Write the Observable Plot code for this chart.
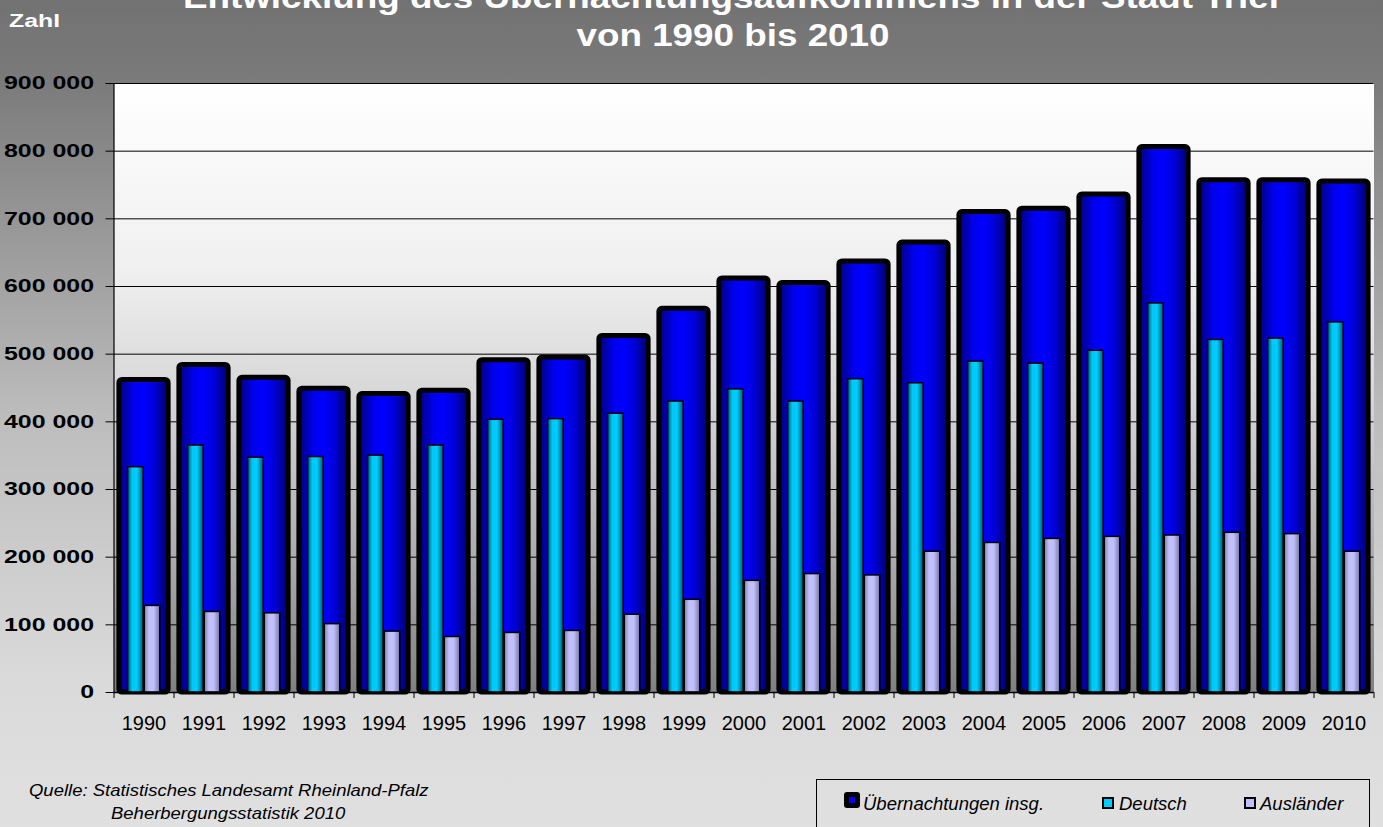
<!DOCTYPE html>
<html>
<head>
<meta charset="utf-8">
<script src="https://cdn.jsdelivr.net/npm/d3@7"></script>
<script src="https://cdn.jsdelivr.net/npm/@observablehq/plot@0.6"></script>
<style>
  html, body { margin: 0; padding: 0; }
  body { width: 1383px; height: 827px; overflow: hidden; }
  #wrap {
    position: relative; width: 1383px; height: 827px; overflow: hidden;
    background: linear-gradient(to bottom, #727272 0%, #7b7b7b 10%, #bcbcbc 50%, #dadada 82%, #e0e0e0 100%);
    font-family: "Liberation Sans", Arial, sans-serif;
  }
  #chart { position: absolute; left: 0; top: 0; }
  .title {
    position: absolute; left: 733px; white-space: nowrap; color: #fff;
    font: bold 32px "Liberation Sans", Arial, sans-serif; line-height: 1;
    transform: translateX(-50%) scaleX(1.15);
  }
  #zahl {
    position: absolute; left: 9px; top: 12px; color: #fff;
    font: bold 18px "Liberation Sans", Arial, sans-serif; line-height: 1;
    transform: scaleX(1.38); transform-origin: left top;
  }
  .src {
    position: absolute; white-space: nowrap; color: #000;
    font: italic 16.5px "Liberation Sans", Arial, sans-serif; line-height: 1;
    transform: scaleX(1.12); transform-origin: left top;
  }
  #legend {
    position: absolute; left: 816px; top: 779px; width: 554px; height: 70px;
    border: 1.5px solid #000; box-sizing: border-box;
  }
  .li { position: absolute; white-space: nowrap; font: italic 18.5px "Liberation Sans", Arial, sans-serif; color: #000; line-height: 1; }
  .sw { position: absolute; box-sizing: border-box; }
</style>
</head>
<body>
<div id="wrap">
  <div id="chart"></div>
  <div class="title" style="top:-19px">Entwicklung des Übernachtungsaufkommens in der Stadt Trier</div>
  <div class="title" style="top:19px">von 1990 bis 2010</div>
  <div id="zahl">Zahl</div>
  <div class="src" style="left:29px; top:782px">Quelle: Statistisches Landesamt Rheinland-Pfalz</div>
  <div class="src" style="left:111px; top:805px">Beherbergungsstatistik 2010</div>
  <div id="legend"></div>
</div>
<script>
// ---- data ----
const years = [1990, 1991, 1992, 1993, 1994, 1995, 1996, 1997, 1998, 1999, 2000,
               2001, 2002, 2003, 2004, 2005, 2006, 2007, 2008, 2009, 2010];
const totals = [462000, 484000, 465000, 449000, 441000, 446000, 491000, 495000, 527000, 567000, 612000,
                605000, 637000, 665000, 710000, 715000, 736000, 806000, 757000, 757000, 755000];
const deutsch = [333000, 365000, 347000, 348000, 350000, 365000, 403000, 404000, 412000, 430000, 448000,
                 430000, 463000, 457000, 489000, 486000, 505000, 575000, 521000, 523000, 547000];
const auslaender = [128000, 119000, 117000, 101000, 90000, 82000, 88000, 91000, 115000, 137000, 165000,
                    175000, 173000, 208000, 221000, 227000, 230000, 232000, 236000, 234000, 208000];
const yTicks = [0, 100000, 200000, 300000, 400000, 500000, 600000, 700000, 800000, 900000];
const seriesNames = ["Übernachtungen insg.", "Deutsch", "Ausländer"];

const data = years.map((year, i) => ({year, total: totals[i], deutsch: deutsch[i], auslaender: auslaender[i]}));
const boundaries = [...years.map(y => y - 0.5), years[years.length - 1] + 0.5];
const fmt = d => d3.format(",")(d).replace(/,/g, " ");

const chart = Plot.plot({
  width: 1383, height: 827,
  marginLeft: 113.5, marginRight: 9.5, marginTop: 83, marginBottom: 135,
  style: {background: "transparent", color: "#000", fontFamily: "'Liberation Sans', Arial, sans-serif"},
  x: {domain: [years[0] - 0.5, years[years.length - 1] + 0.5], label: null},
  y: {domain: [0, 900000], label: null},
  marks: [
    Plot.frame({fill: "url(#plotBg)", stroke: "none"}),
    Plot.gridY(yTicks, {stroke: "#000", strokeOpacity: 1, strokeWidth: 1}),
    Plot.rect(data, {x1: d => d.year - 0.41, x2: d => d.year + 0.41, y1: 0, y2: "total",
      fill: "url(#gTotal)", stroke: "#000", strokeWidth: 5, rx: 3}),
    Plot.rect(data, {x1: d => d.year - 0.265, x2: d => d.year - 0.005, y1: 0, y2: "deutsch",
      fill: "url(#gDeutsch)", stroke: "#000", strokeWidth: 1.5}),
    Plot.rect(data, {x1: d => d.year + 0.012, x2: d => d.year + 0.272, y1: 0, y2: "auslaender",
      fill: "url(#gAus)", stroke: "#000", strokeWidth: 1.5}),
    Plot.ruleY([0], {stroke: "#000", strokeWidth: 1.5}),
    Plot.ruleX([years[0] - 0.5], {stroke: "#000", strokeWidth: 1.2}),
    Plot.axisY({ticks: yTicks, tickSize: 8, tickPadding: 12, tickFormat: fmt, label: null,
      fontSize: 18.6, fontWeight: "bold"}),
    Plot.axisX({ticks: boundaries, tickSize: 6, tickFormat: () => "", label: null}),
    Plot.axisX({ticks: years, tickSize: 0, tickPadding: 23, tickFormat: d => String(d), label: null, fontSize: 20})
  ]
});

// gradients
const ns = "http://www.w3.org/2000/svg";
const defs = document.createElementNS(ns, "defs");
function grad(id, vertical, stops) {
  const g = document.createElementNS(ns, "linearGradient");
  g.setAttribute("id", id);
  g.setAttribute("x1", "0"); g.setAttribute("y1", "0");
  g.setAttribute("x2", vertical ? "0" : "1"); g.setAttribute("y2", vertical ? "1" : "0");
  for (const [o, c] of stops) {
    const s = document.createElementNS(ns, "stop");
    s.setAttribute("offset", o); s.setAttribute("stop-color", c);
    g.appendChild(s);
  }
  defs.appendChild(g);
}
grad("plotBg", true, [[0, "#ffffff"], [0.3, "#f0f0f0"], [0.52, "#d6d6d6"], [0.77, "#adadad"], [1, "#808080"]]);
grad("gTotal", false, [[0, "#000078"], [0.3, "#0000ee"], [0.5, "#0000ff"], [0.72, "#0000d8"], [1, "#00006c"]]);
grad("gDeutsch", false, [[0, "#005870"], [0.3, "#00c8f8"], [0.6, "#00ccff"], [1, "#005868"]]);
grad("gAus", false, [[0, "#7c7ca0"], [0.3, "#c0c0ff"], [0.6, "#c0c0ff"], [1, "#78789c"]]);
chart.insertBefore(defs, chart.firstChild);

// widen the bold y labels like in the reference
chart.querySelectorAll('g[aria-label="y-axis tick label"] text').forEach(t => {
  const tr = t.getAttribute("transform");
  if (tr) t.setAttribute("transform", tr + " scale(1.34,1)");
});

document.getElementById("chart").appendChild(chart);

// legend
const legend = document.getElementById("legend");
const items = [
  {name: seriesNames[0], sx: 27, sy: 12, sw: 16, fill: "#000", inner: "#0000ff", tx: 46},
  {name: seriesNames[1], sx: 285, sy: 17, sw: 12, fill: "#00ccff", border: true, tx: 302},
  {name: seriesNames[2], sx: 427, sy: 17, sw: 12, fill: "#c0c0ff", border: true, tx: 443}
];
for (const it of items) {
  const s = document.createElement("div");
  s.className = "sw";
  s.style.left = it.sx + "px"; s.style.top = it.sy + "px";
  s.style.width = it.sw + "px"; s.style.height = it.sw + "px";
  s.style.background = it.fill;
  if (it.border) s.style.border = "2px solid #000";
  else {
    s.style.borderRadius = "3px";
    const inn = document.createElement("div");
    inn.style.cssText = "position:absolute;left:5px;top:5px;width:6px;height:6px;background:" + it.inner;
    s.appendChild(inn);
  }
  legend.appendChild(s);
  const t = document.createElement("div");
  t.className = "li";
  t.style.left = it.tx + "px"; t.style.top = "15px";
  t.textContent = it.name;
  legend.appendChild(t);
}
</script>
</body>
</html>
